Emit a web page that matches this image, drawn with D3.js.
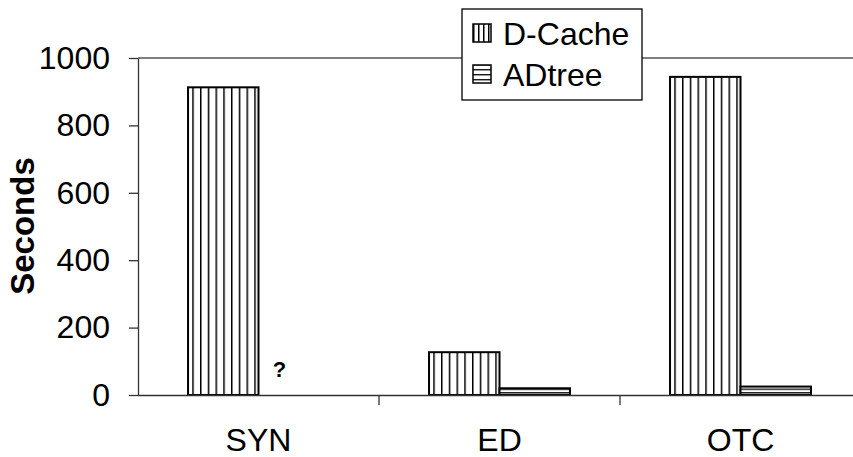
<!DOCTYPE html>
<html>
<head>
<meta charset="utf-8">
<script src="https://cdn.jsdelivr.net/npm/d3@7"></script>
<style>
  body { margin: 0; background: #fff; }
  svg { display: block; font-family: "Liberation Sans", Arial, sans-serif; }
</style>
</head>
<body>
<div id="chart"></div>
<script>
// data
const categories = ["SYN", "ED", "OTC"];
const series = ["D-Cache", "ADtree"];
const dcache = [913, 127, 944];
const adtree = [null, 20, 25];   // SYN has no ADtree value, shown as "?"
const yTicks = [0, 200, 400, 600, 800, 1000];

const W = 853, H = 457;
const margin = { top: 58, left: 138, bottom: 62 };
const plotBottom = H - margin.bottom;

const svg = d3.select("#chart").append("svg")
    .attr("width", W)
    .attr("height", H);

// hatch patterns
const defs = svg.append("defs");
function vHatch(id, step) {
    const p = defs.append("pattern").attr("id", id)
        .attr("patternUnits", "userSpaceOnUse")
        .attr("width", step).attr("height", 10);
    p.append("rect").attr("width", step).attr("height", 10).attr("fill", "#fff");
    p.append("line").attr("x1", 0.75).attr("x2", 0.75).attr("y1", 0).attr("y2", 10)
        .attr("stroke", "#000").attr("stroke-width", 1.5);
}
function hHatch(id, step) {
    const p = defs.append("pattern").attr("id", id)
        .attr("patternUnits", "userSpaceOnUse")
        .attr("width", 10).attr("height", step);
    p.append("rect").attr("width", 10).attr("height", step).attr("fill", "#fff");
    p.append("line").attr("y1", 0.75).attr("y2", 0.75).attr("x1", 0).attr("x2", 10)
        .attr("stroke", "#000").attr("stroke-width", 1.3);
}
vHatch("vh", 7.75);
hHatch("hh", 3.5);
vHatch("vhLeg", 5);
hHatch("hhLeg", 5);
const fills = { "D-Cache": "url(#vh)", "ADtree": "url(#hh)" };
const legFills = { "D-Cache": "url(#vhLeg)", "ADtree": "url(#hhLeg)" };

// scales
const x = d3.scaleBand().domain(categories).range([margin.left, margin.left + 3 * 241]);
const xSub = d3.scaleBand().domain(series).range([0, x.bandwidth()]).paddingOuter(0.71);
const y = d3.scaleLinear().domain([0, 1000]).range([plotBottom, margin.top]);

const rows = categories.map((c, i) => ({ cat: c, "D-Cache": dcache[i], "ADtree": adtree[i] }));

// top border of plot area
svg.append("line")
    .attr("x1", margin.left).attr("x2", W)
    .attr("y1", y(1000)).attr("y2", y(1000))
    .attr("stroke", "#555").attr("stroke-width", 1.3);

// bars
const groups = svg.selectAll(".grp").data(rows).enter().append("g")
    .attr("transform", d => `translate(${x(d.cat)},0)`);

groups.selectAll("rect")
    .data(d => series.filter(s => d[s] != null).map(s => ({ s, v: d[s] })))
    .enter().append("rect")
    .attr("x", d => xSub(d.s))
    .attr("width", xSub.bandwidth())
    .attr("y", d => y(d.v))
    .attr("height", d => y(0) - y(d.v))
    .attr("fill", d => fills[d.s])
    .attr("stroke", "#000")
    .attr("stroke-width", 2);

// unknown value marker
svg.append("text")
    .attr("x", x("SYN") + xSub("ADtree") + 21)
    .attr("y", y(0) - 18)
    .attr("text-anchor", "middle")
    .style("font-size", "22px")
    .style("font-weight", "bold")
    .text("?");

// y axis
const yAxis = svg.append("g")
    .attr("transform", `translate(${margin.left},0)`)
    .call(d3.axisLeft(y).tickValues(yTicks).tickFormat(d3.format("d"))
        .tickSize(9).tickPadding(19).tickSizeOuter(0));
yAxis.select(".domain").attr("stroke", "#333").attr("stroke-width", 1.3);
yAxis.selectAll(".tick line").attr("stroke", "#333").attr("stroke-width", 1.3);
yAxis.selectAll(".tick text")
    .style("font-size", "32px")
    .attr("fill", "#000")
    .attr("font-family", null);

// x axis
const xAxis = svg.append("g")
    .attr("transform", `translate(0,${plotBottom})`)
    .call(d3.axisBottom(x).tickSize(0).tickPadding(33).tickSizeOuter(0));
xAxis.select(".domain").attr("d", `M${margin.left},0.5H${W}`)
    .attr("stroke", "#333").attr("stroke-width", 1.3);
xAxis.selectAll(".tick text")
    .style("font-size", "32px")
    .attr("fill", "#000")
    .attr("font-family", null);

// tick marks between categories
svg.append("g").selectAll("line")
    .data(categories.slice(1))
    .enter().append("line")
    .attr("x1", d => x(d)).attr("x2", d => x(d))
    .attr("y1", plotBottom).attr("y2", plotBottom + 10)
    .attr("stroke", "#333").attr("stroke-width", 1.3);

// y title
svg.append("text")
    .attr("transform", `translate(34,226) rotate(-90)`)
    .attr("text-anchor", "middle")
    .style("font-size", "33px")
    .style("font-weight", "bold")
    .text("Seconds");

// legend
const leg = svg.append("g").attr("transform", "translate(462,9)");
leg.append("rect")
    .attr("width", 180).attr("height", 91)
    .attr("fill", "#fff").attr("stroke", "#000").attr("stroke-width", 1.3);
const li = leg.selectAll(".li").data(series).enter().append("g")
    .attr("transform", (d, i) => `translate(11,${24 + i * 41})`);
li.append("rect")
    .attr("x", 0).attr("y", -9).attr("width", 18).attr("height", 18)
    .attr("fill", d => legFills[d])
    .attr("stroke", "#000").attr("stroke-width", 1.5);
li.append("text")
    .attr("x", 30).attr("dy", "0.36em")
    .style("font-size", "32px")
    .text(d => d);
</script>
</body>
</html>
